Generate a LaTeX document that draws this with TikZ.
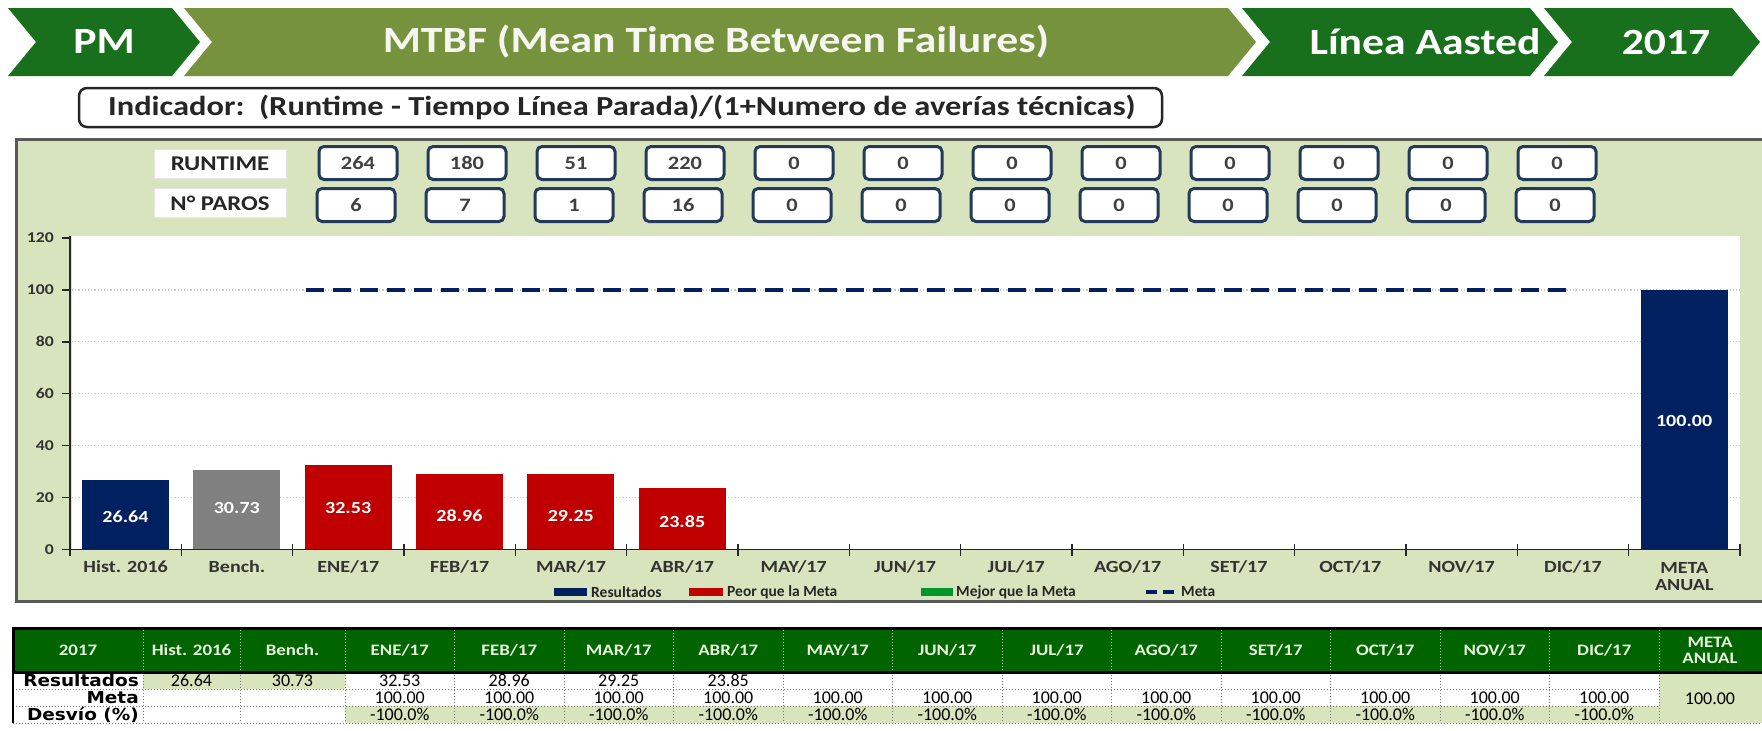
\documentclass[tikz,border=0pt]{standalone}
\usepackage{fontspec}
\setmainfont{Carlito}[FakeStretch=1.18]
\newfontfamily\tabfont{DejaVu Sans}[FakeStretch=1.12]
\newfontfamily\numfont{Carlito}
\newcommand\fsz[1]{\fontsize{#1}{#1}\selectfont}
\definecolor{dkgreen}{RGB}{24,112,28}
\definecolor{olivebar}{RGB}{118,146,60}
\definecolor{panel}{RGB}{215,228,189}
\definecolor{navy}{RGB}{0,32,96}
\definecolor{barred}{RGB}{192,0,0}
\definecolor{bargray}{RGB}{128,128,128}
\definecolor{leggreen}{RGB}{0,150,40}
\definecolor{boxblue}{RGB}{36,58,90}
\definecolor{thead}{RGB}{0,100,0}
\definecolor{theadtxt}{RGB}{232,244,222}
\definecolor{cellgreen}{RGB}{216,228,188}
\tikzset{
  headtxt/.style={text=white, font=\bfseries\fsz{37}, inner sep=0},
  valbox/.style={draw=boxblue, line width=3, rounded corners=5, fill=white,
    minimum width=78, minimum height=33, inner sep=0, font=\bfseries\fsz{19}, text=black!75},
  lblbox/.style={fill=white, draw=black!10, line width=0.5, minimum width=132, minimum height=29,
    inner sep=0, font=\bfseries\fsz{21}, text=black!85},
  barlbl/.style={text=white, font=\bfseries\fsz{17}, inner sep=0},
  xlbl/.style={font=\bfseries\fsz{17}, text=black!80, inner sep=0, align=center},
  ylbl/.style={font=\bfseries\fsz{15}, text=black!80, inner sep=0, anchor=east},
  leglbl/.style={font=\numfont\bfseries\fsz{15.5}, text=black!85, inner sep=0, anchor=west},
  metaline/.style={draw=navy, line width=4, dash pattern=on 18 off 9},
  thtxt/.style={font=\bfseries\fsz{16}, text=theadtxt, inner sep=0, align=center},
  rowlbl/.style={font=\tabfont\bfseries\fsz{16.5}, text=black, inner sep=0, anchor=east},
  numtxt/.style={font=\numfont\fsz{18}, text=black, inner sep=0},
  cellgrid/.style={draw=black!55, dotted, line width=1}
}
\begin{document}
\begin{tikzpicture}[x=1pt,y=-1pt]
\useasboundingbox (0,0) rectangle (1762,731);
\fill[white] (0,0) rectangle (1762,731);
% ---------- header chevrons ----------
\fill[dkgreen] (8,8) -- (172,8) -- (200,42) -- (172,76) -- (8,76) -- (36,42) -- cycle;
\fill[olivebar] (184,8) -- (1228,8) -- (1256,42) -- (1228,76) -- (184,76) -- (212,42) -- cycle;
\fill[dkgreen] (1242,8) -- (1530,8) -- (1558,42) -- (1530,76) -- (1242,76) -- (1270,42) -- cycle;
\fill[dkgreen] (1544,8) -- (1732,8) -- (1760,42) -- (1732,76) -- (1544,76) -- (1572,42) -- cycle;
\node[headtxt] (pm) at (104,42) {PM};
\node[headtxt, text=white!92!olivebar] (title) at (716,42) {MTBF (Mean Time Between Failures)};
\node[headtxt] (linea) at (1425,42) {Línea Aasted};
\node[headtxt] (year) at (1666,42) {2017};
% ---------- indicator ----------
\draw[line width=2.5, rounded corners=8, fill=white, draw=black!85] (79,88) rectangle (1162,127);
\node[anchor=west, font=\bfseries\fsz{27.5}, text=black!85, inner sep=0] (ind) at (108,107.5)
  {Indicador:\ \ (Runtime - Tiempo Línea Parada)/(1+Numero de averías técnicas)};
% ---------- chart panel ----------
\draw[fill=panel, draw=black!65, line width=3] (16,139) rectangle (1790,601);
\node[lblbox] (rt) at (220,164) {RUNTIME};
\node[lblbox] (np) at (220,203) {N° PAROS};
\foreach \a [count=\k from 0] in {264,180,51,220,0,0,0,0,0,0,0,0}
  \node[valbox] (r\k) at ({358+109*\k},163) {\a};
\foreach \a [count=\k from 0] in {6,7,1,16,0,0,0,0,0,0,0,0}
  \node[valbox] (p\k) at ({356+109*\k},205) {\a};
% plot area
\fill[white] (72,236) rectangle (1740,549);
\foreach \v in {20,40,60,80,100}
  \draw[black!20, dotted, line width=1.2] (72,{549.5-\v*2.596}) -- (1740,{549.5-\v*2.596});
% bars
\foreach \i/\v/\c/\ly in {0/26.64/navy/517, 1/30.73/bargray/508, 2/32.53/barred/508,
    3/28.96/barred/516, 4/29.25/barred/516, 5/23.85/barred/522, 14/100.00/navy/421} {
  \fill[\c] ({70+111.33*\i+12},549.5) rectangle ({70+111.33*\i+99},{549.5-\v*2.596});
  \node[barlbl] (bl\i) at ({70+111.33*\i+55.5},\ly) {\v};
}
% meta line
\coordinate (ms) at (306,289.9);
\coordinate (me) at (1575,289.9);
\draw[metaline] (ms) -- (me);
% axes
\draw[black!85, line width=1.5] (70,236) -- (70,549.5) -- (1740,549.5);
\foreach \v in {0,20,...,120} {
  \draw[black!85, line width=1.5] (62,{549.5-\v*2.596}) -- (70,{549.5-\v*2.596});
  \node[ylbl] (y\v) at (54,{549.5-\v*2.596}) {\v};
}
\foreach \k in {0,...,15}
  \draw[black!85, line width=1.5] ({70+111.33*\k},544) -- ({70+111.33*\k},556);
\node[xlbl] (x0) at ({70+111.33*0.5},567) {Hist. 2016};
\node[xlbl] (x1) at ({70+111.33*1.5},567) {Bench.};
\foreach \m [count=\k from 2] in {ENE,FEB,MAR,ABR,MAY,JUN,JUL,AGO,SET,OCT,NOV,DIC}
  \node[xlbl] (x\k) at ({70+111.33*(\k+0.5)},567) {\m/17};
\node[xlbl] (x14) at ({70+111.33*14.5},577) {\fontsize{17}{19}\selectfont META\\ANUAL};
% legend
\fill[navy] (554,588) rectangle (587,596);
\node[leglbl] (lg1) at (591,592) {Resultados};
\fill[barred] (689,588) rectangle (723,596);
\node[leglbl] (lg2) at (727,592) {Peor que la Meta};
\fill[leggreen] (921,588) rectangle (953,596);
\node[leglbl] (lg3) at (956,592) {Mejor que la Meta};
\coordinate (lda) at (1146,592);
\coordinate (ldb) at (1175,592);
\draw[draw=navy, line width=4, dash pattern=on 11 off 6] (lda) -- (ldb);
\node[leglbl] (lg4) at (1181,592) {Meta};
% ---------- table ----------
\fill[thead] (13,628) rectangle (1775,672);
\fill[cellgreen] (143,672) rectangle (345,689);
\fill[cellgreen] (345,706) rectangle (1659,723);
\fill[cellgreen] (1659,672) rectangle (1775,723);
% grid
\foreach \xx in {143,240,345,454.5,564,673.5,783,892.5,1002,1111.5,1221,1330.5,1440,1549.5,1659} {
  \draw[cellgrid] (\xx,672) -- (\xx,723);
  \draw[white!70!thead, dotted, line width=1] (\xx,630) -- (\xx,670);
}
\draw[cellgrid] (13,689) -- (1659,689);
\draw[cellgrid] (13,706) -- (1659,706);
\draw[cellgrid] (13,723) -- (1775,723);
\draw[black, line width=3] (13,628) rectangle (1775,672);
\draw[black, line width=2.5] (13,672) -- (13,723);
% header texts
\node[thtxt] (h0) at (78,650) {2017};
\node[thtxt] (h1) at (191.5,650) {Hist. 2016};
\node[thtxt] (h2) at (292.5,650) {Bench.};
\foreach \m [count=\k from 0] in {ENE,FEB,MAR,ABR,MAY,JUN,JUL,AGO,SET,OCT,NOV,DIC}
  \node[thtxt] (hm\k) at ({345+109.5*(\k+0.5)},650) {\m/17};
\node[thtxt] (h15) at (1710,650) {\fontsize{16}{17}\selectfont META\\ANUAL};
% row labels
\node[rowlbl] (rl1) at (139,680.5) {Resultados};
\node[rowlbl] (rl2) at (139,697.5) {Meta};
\node[rowlbl] (rl3) at (139,714.5) {Desvío (\%)};
% values
\node[numtxt] (vh) at (191.5,680.5) {26.64};
\node[numtxt] (vb) at (292.5,680.5) {30.73};
\foreach \a [count=\k from 0] in {32.53,28.96,29.25,23.85}
  \node[numtxt] (vr\k) at ({345+109.5*(\k+0.5)},680.5) {\a};
\foreach \k in {0,...,11} {
  \node[numtxt] (vm\k) at ({345+109.5*(\k+0.5)},697.5) {100.00};
  \node[numtxt] (vd\k) at ({345+109.5*(\k+0.5)},714.5) {-100.0\%};
}
\node[numtxt] (vma) at (1710,699) {100.00};
\end{tikzpicture}
\end{document}
